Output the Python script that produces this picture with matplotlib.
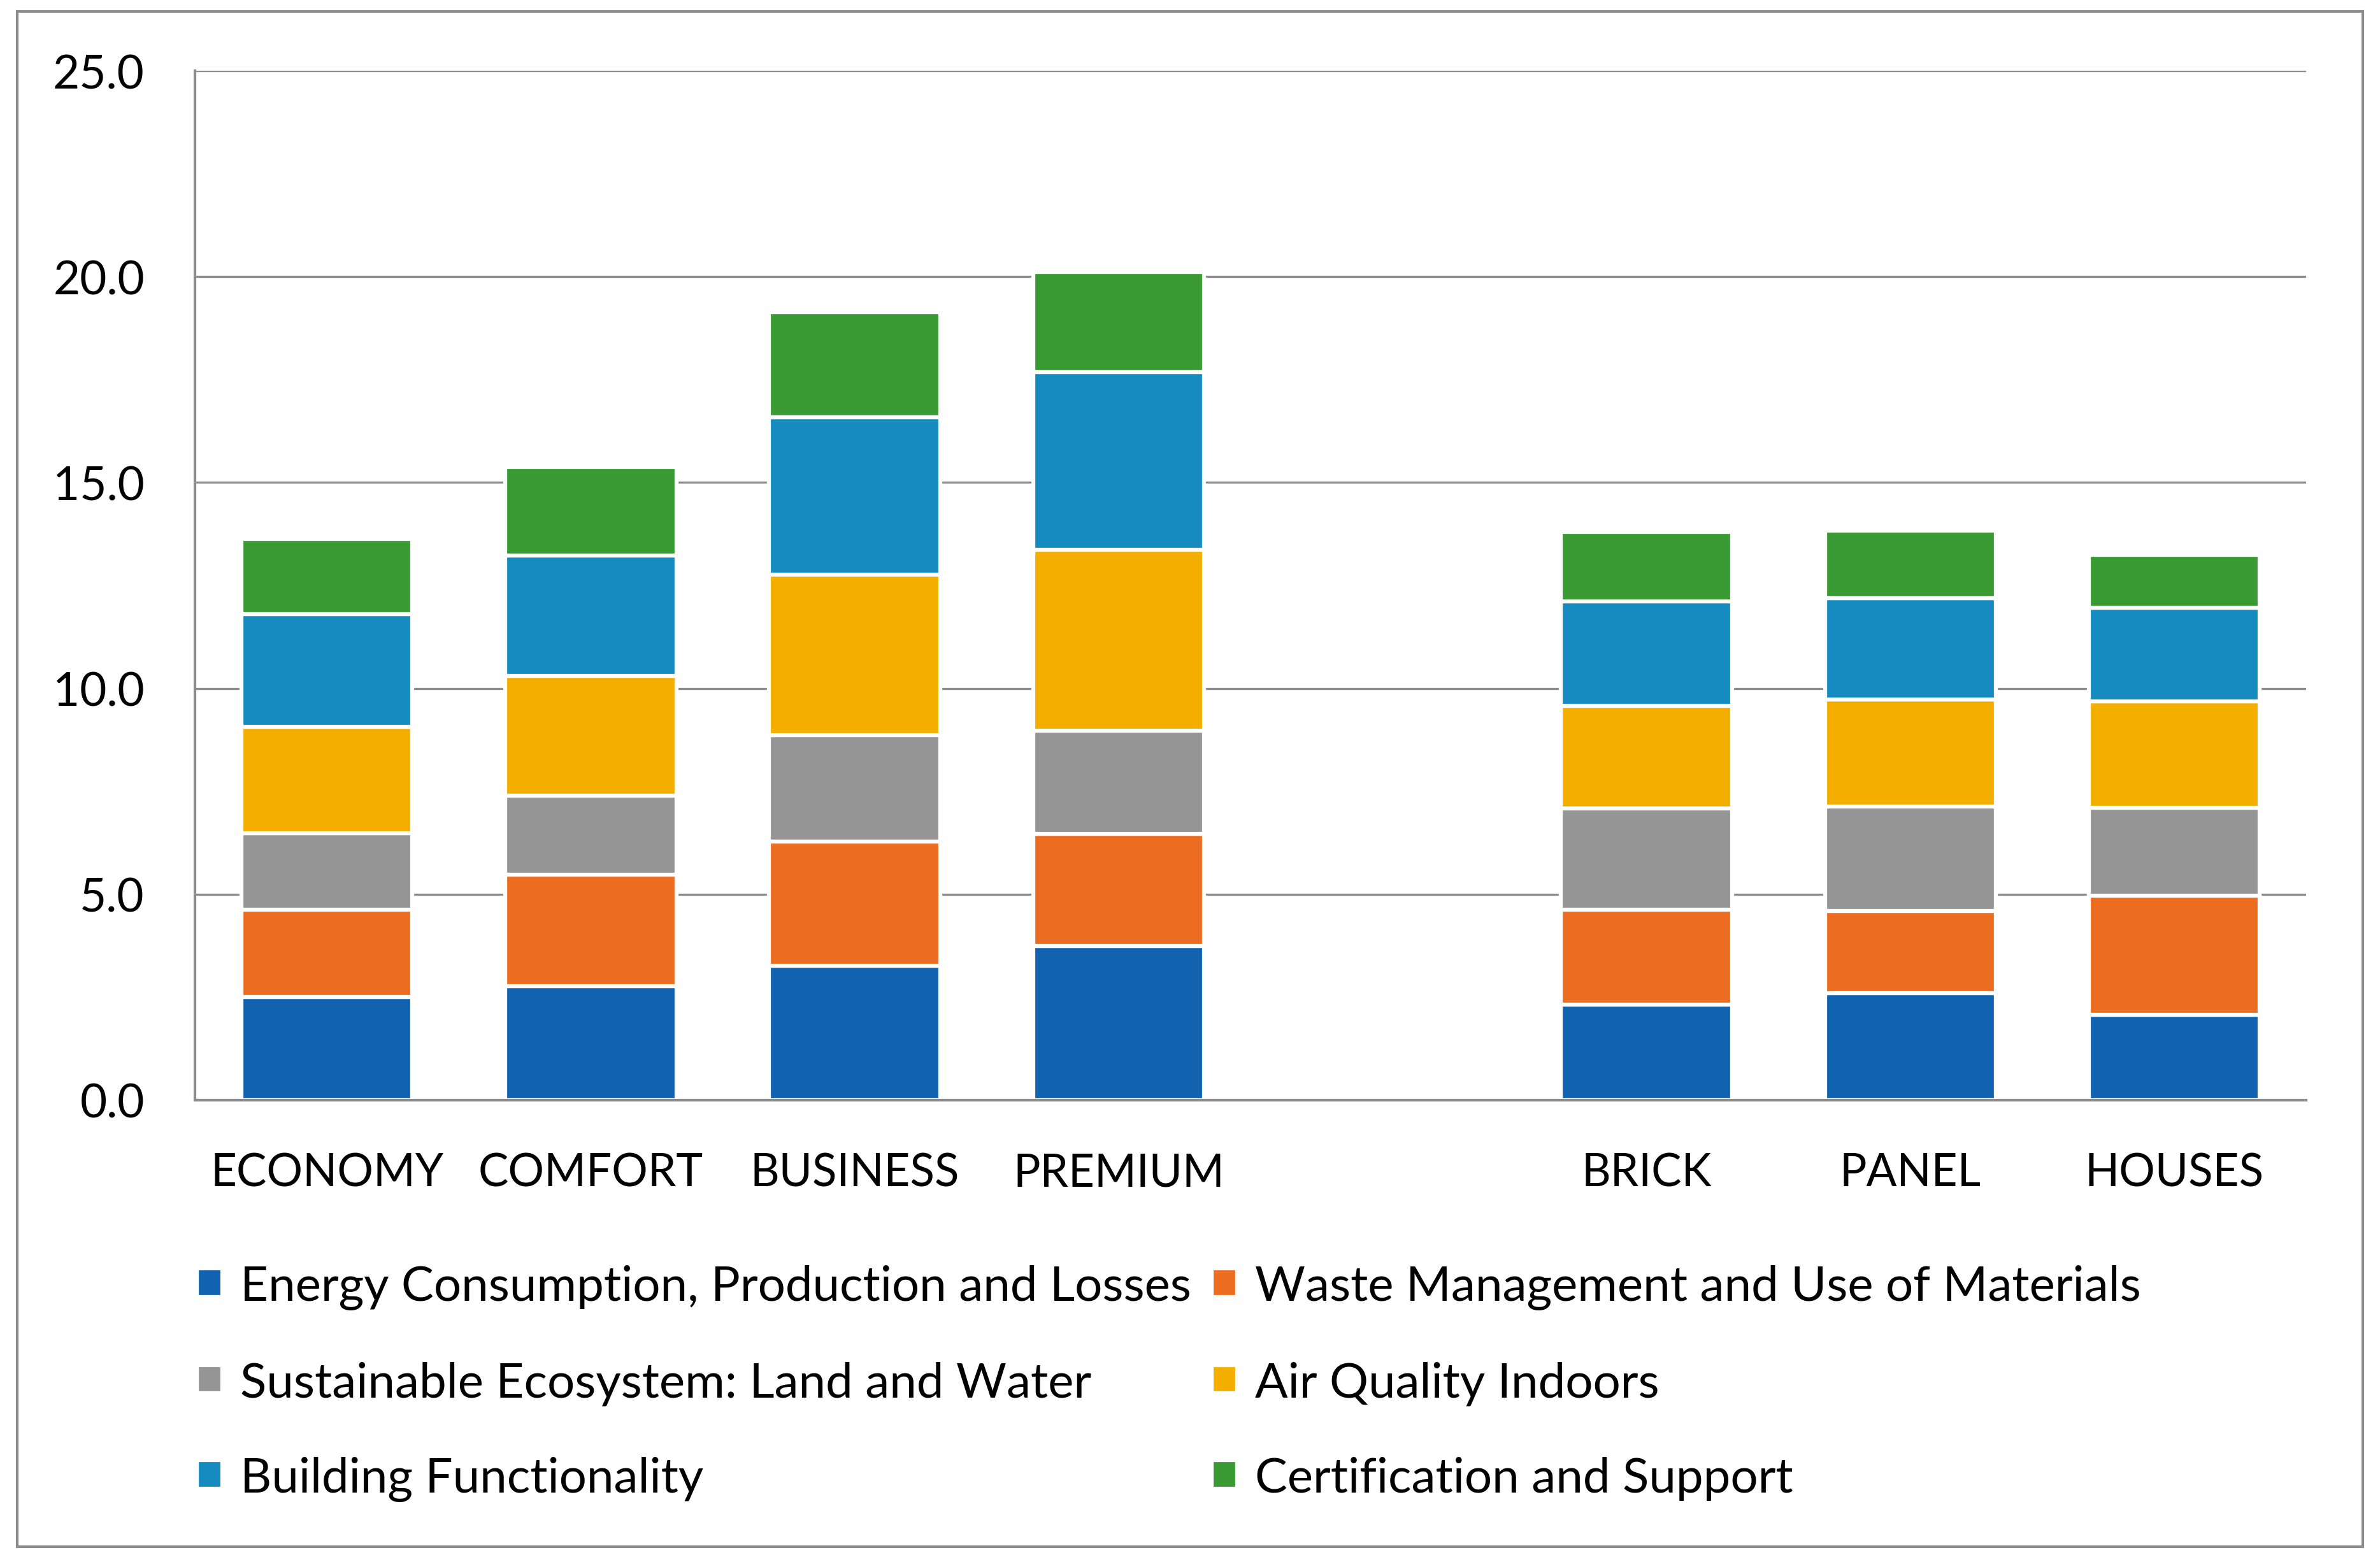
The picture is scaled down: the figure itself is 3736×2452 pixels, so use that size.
import numpy as np
import matplotlib
matplotlib.use("Agg")
from matplotlib import pyplot as plt
from matplotlib.patches import Rectangle

plt.rcParams['font.family'] = ['Lato', 'DejaVu Sans']

# categories (empty slot = gap between the two groups)
categories = ["ECONOMY", "COMFORT", "BUSINESS", "PREMIUM", "", "BRICK", "PANEL", "HOUSES"]

energy    = [2.50, 2.77, 3.27, 3.75, np.nan, 2.32, 2.60, 2.07]
waste     = [2.13, 2.70, 3.01, 2.71, np.nan, 2.31, 2.00, 2.90]
ecosystem = [1.85, 1.93, 2.58, 2.51, np.nan, 2.45, 2.53, 2.13]
air       = [2.59, 2.90, 3.90, 4.40, np.nan, 2.50, 2.60, 2.59]
building  = [2.74, 2.93, 3.82, 4.32, np.nan, 2.53, 2.46, 2.27]
cert      = [1.82, 2.15, 2.55, 2.43, np.nan, 1.69, 1.64, 1.29]

series_names = ["Energy Consumption, Production and Losses",
                "Waste Management and Use of Materials",
                "Sustainable Ecosystem: Land and Water",
                "Air Quality Indoors",
                "Building Functionality",
                "Certification and Support"]
series = [energy, waste, ecosystem, air, building, cert]
colors = ["#1163B0", "#EC6D21", "#959595", "#F3AE00", "#168BC0", "#3A9A33"]

yticks = [0, 5, 10, 15, 20, 25]

fig = plt.figure(figsize=(3736 / 300, 2453 / 300), dpi=300)
ax = fig.add_axes([0.0819, 0.2956, 0.969 - 0.0819, 0.9543 - 0.2956])

x = np.arange(len(categories))
bottom = np.zeros(len(categories))
for name, vals, col in zip(series_names, series, colors):
    vals = np.array(vals, dtype=float)
    ax.bar(x, vals, width=0.648, bottom=bottom, color=col, label=name,
           edgecolor="white", linewidth=1.5, zorder=3)
    bottom = bottom + np.nan_to_num(vals)

grey = "#8C8C8C"
ax.set_ylim(0, 25)
ax.set_xlim(-0.5, len(categories) - 0.5)
ax.set_yticks(yticks)
ax.set_yticklabels([f"{v:.1f}" for v in yticks])
ax.set_xticks(x)
ax.set_xticklabels(categories)
ax.yaxis.grid(True, color=grey, linewidth=0.8)
ax.set_axisbelow(True)
for s in ["top", "right"]:
    ax.spines[s].set_visible(False)
for s in ["left", "bottom"]:
    ax.spines[s].set_color(grey)
    ax.spines[s].set_linewidth(1.0)
ax.spines["bottom"].set_zorder(4)
ax.tick_params(axis="both", length=0, labelsize=17.5)
ax.tick_params(axis="x", pad=19.5, labelsize=17)
ax.tick_params(axis="y", pad=19)

# legend filled row by row like the original (2 columns)
handles, labels = ax.get_legend_handles_labels()
order = [0, 2, 4, 1, 3, 5]
fig.legend([handles[i] for i in order], [labels[i] for i in order],
           loc="upper left", bbox_to_anchor=(0.0827, 0.1904), ncol=2,
           frameon=False, fontsize=18.3, borderpad=0, borderaxespad=0,
           handlelength=0.53, handleheight=0.53, handletextpad=0.36,
           labelspacing=1.05, columnspacing=0.42)

# outer chart border
fig.patches.append(Rectangle((0.0072, 0.0098), 0.9856, 0.9825, transform=fig.transFigure,
                             fill=False, edgecolor=grey, linewidth=1.0))

fig.savefig("out.png", dpi=300)
